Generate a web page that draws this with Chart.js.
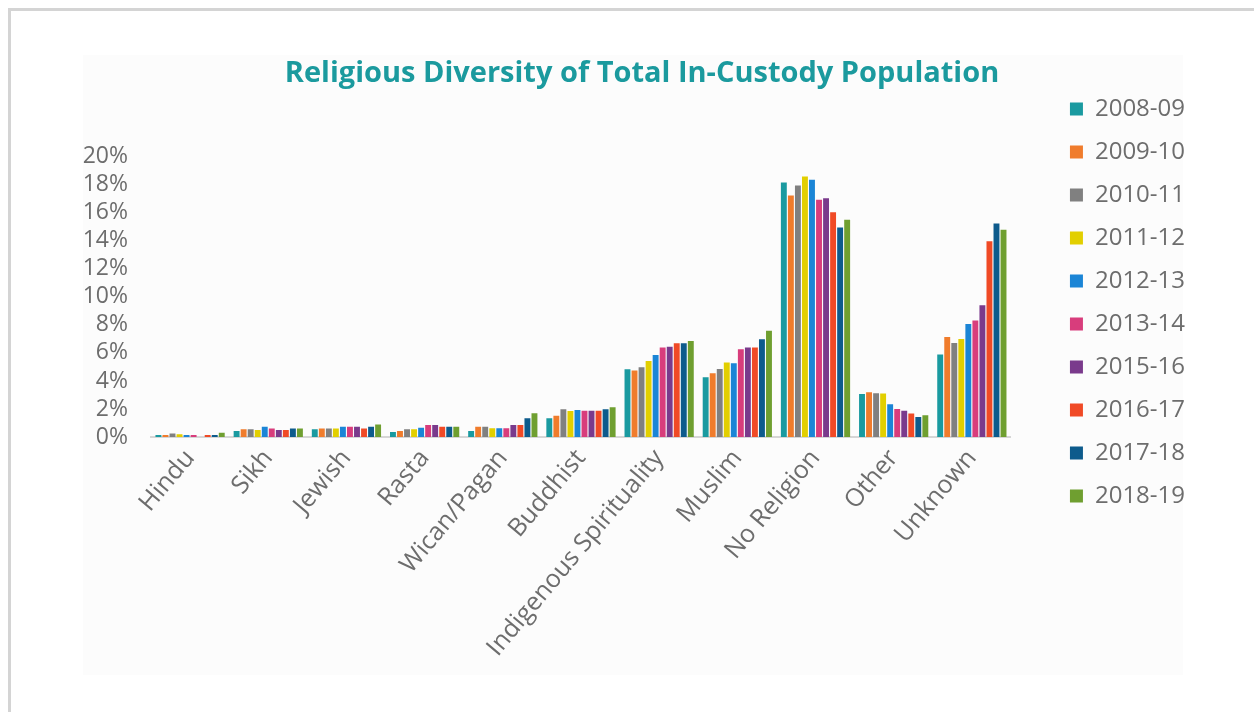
<!DOCTYPE html>
<html>
<head>
<meta charset="utf-8">
<script src="https://cdn.jsdelivr.net/npm/chart.js@4.4.1/dist/chart.umd.min.js"></script>
<style>
  html, body { margin: 0; padding: 0; background: #ffffff; }
  body { width: 1254px; height: 712px; position: relative; overflow: hidden; }
  #frame { position: absolute; left: 8px; top: 8px; right: -10px; bottom: -10px;
           border-top: 3px solid #d4d4d4; border-left: 3px solid #d4d4d4; }
  #panel { position: absolute; left: 83px; top: 55px; width: 1100px; height: 620px; background: #fcfcfc; }
  #wrap { position: absolute; left: 0; top: 0; width: 1254px; height: 712px; }
</style>
</head>
<body>
<div id="frame"></div>
<div id="panel"></div>
<div id="wrap"><canvas id="c" width="1254" height="712"></canvas></div>
<script>
const categories = ["Hindu", "Sikh", "Jewish", "Rasta", "Wican/Pagan", "Buddhist",
  "Indigenous Spirituality", "Muslim", "No Religion", "Other", "Unknown"];
const seriesNames = ["2008-09", "2009-10", "2010-11", "2011-12", "2012-13",
  "2013-14", "2015-16", "2016-17", "2017-18", "2018-19"];
const seriesColors = ["#1a9aa0", "#f07c2c", "#808080", "#e2cf00", "#1b85d6",
  "#d83d7c", "#7a3a8c", "#f04a26", "#0d5b8c", "#6f9f30"];

const s2008_09 = [0.15, 0.43, 0.55, 0.35, 0.43, 1.33, 4.83, 4.26, 18.17, 3.07, 5.88];
const s2009_10 = [0.15, 0.55, 0.60, 0.43, 0.74, 1.52, 4.74, 4.55, 17.24, 3.19, 7.14];
const s2010_11 = [0.25, 0.55, 0.60, 0.55, 0.74, 1.98, 4.98, 4.86, 17.95, 3.12, 6.71];
const s2011_12 = [0.20, 0.50, 0.60, 0.55, 0.62, 1.86, 5.43, 5.31, 18.60, 3.10, 7.00];
const s2012_13 = [0.15, 0.74, 0.74, 0.66, 0.62, 1.93, 5.86, 5.26, 18.36, 2.33, 8.07];
const s2013_14 = [0.15, 0.60, 0.74, 0.86, 0.62, 1.88, 6.38, 6.26, 16.93, 2.00, 8.31];
const s2015_16 = [0.00, 0.50, 0.74, 0.86, 0.86, 1.88, 6.45, 6.38, 17.05, 1.88, 9.40];
const s2016_17 = [0.15, 0.50, 0.60, 0.74, 0.86, 1.88, 6.69, 6.38, 16.05, 1.67, 13.98];
const s2017_18 = [0.15, 0.60, 0.74, 0.74, 1.33, 1.98, 6.69, 6.98, 14.95, 1.43, 15.24];
const s2018_19 = [0.30, 0.60, 0.90, 0.74, 1.69, 2.12, 6.86, 7.59, 15.50, 1.55, 14.80];

const yTicks = [0, 2, 4, 6, 8, 10, 12, 14, 16, 18, 20];

const seriesValues = [s2008_09, s2009_10, s2010_11, s2011_12, s2012_13,
  s2013_14, s2015_16, s2016_17, s2017_18, s2018_19];

const datasets = seriesNames.map((name, i) => ({
  label: name,
  data: seriesValues[i],
  backgroundColor: seriesColors[i],
  borderWidth: 0,
  categoryPercentage: 0.9,
  barPercentage: 0.84
}));

const FONT = "'Open Sans', 'Noto Sans', sans-serif";
const noClip = (s) => { s._computeLabelArea = () => undefined; };

new Chart(document.getElementById('c'), {
  type: 'bar',
  data: { labels: categories, datasets },
  options: {
    responsive: false,
    animation: false,
    layout: { padding: { left: 89, right: 59, top: 24, bottom: 131 } },
    plugins: {
      tooltip: { enabled: false },
      title: {
        display: true,
        text: 'Religious Diversity of Total In-Custody Population',
        color: '#1b9a9e',
        font: { family: FONT, size: 29, weight: 'bold' },
        padding: { top: 32, bottom: 66 }
      },
      legend: {
        position: 'right',
        align: 'center',
        labels: {
          boxWidth: 13,
          boxHeight: 13,
          padding: 19,
          color: '#6d6d6d',
          font: { family: FONT, size: 24 }
        }
      }
    },
    scales: {
      x: {
        grid: { display: false, drawTicks: false },
        border: { display: true, color: '#d6d6d6', width: 2 },
        ticks: {
          color: '#6d6d6d',
          font: { family: FONT, size: 25 },
          minRotation: 50,
          maxRotation: 50,
          padding: 7,
          autoSkip: false
        },
        afterFit: (s) => { s.height = 144; },
        afterUpdate: noClip
      },
      y: {
        min: 0,
        max: 20,
        grid: { display: false, drawTicks: false },
        border: { display: false },
        afterBuildTicks: (s) => { s.ticks = yTicks.map(v => ({ value: v })); },
        ticks: {
          color: '#6d6d6d',
          font: { family: FONT, size: 23 },
          padding: 23,
          autoSkip: false,
          callback: (v) => v + '%'
        },
        afterFit: (s) => { s.width = 62; },
        afterUpdate: noClip
      },
      yR: {
        type: 'linear',
        position: 'right',
        display: true,
        grid: { display: false, drawTicks: false },
        border: { display: false },
        ticks: { display: false },
        afterFit: (s) => { s.width = 40; }
      }
    }
  }
});
</script>
</body>
</html>
